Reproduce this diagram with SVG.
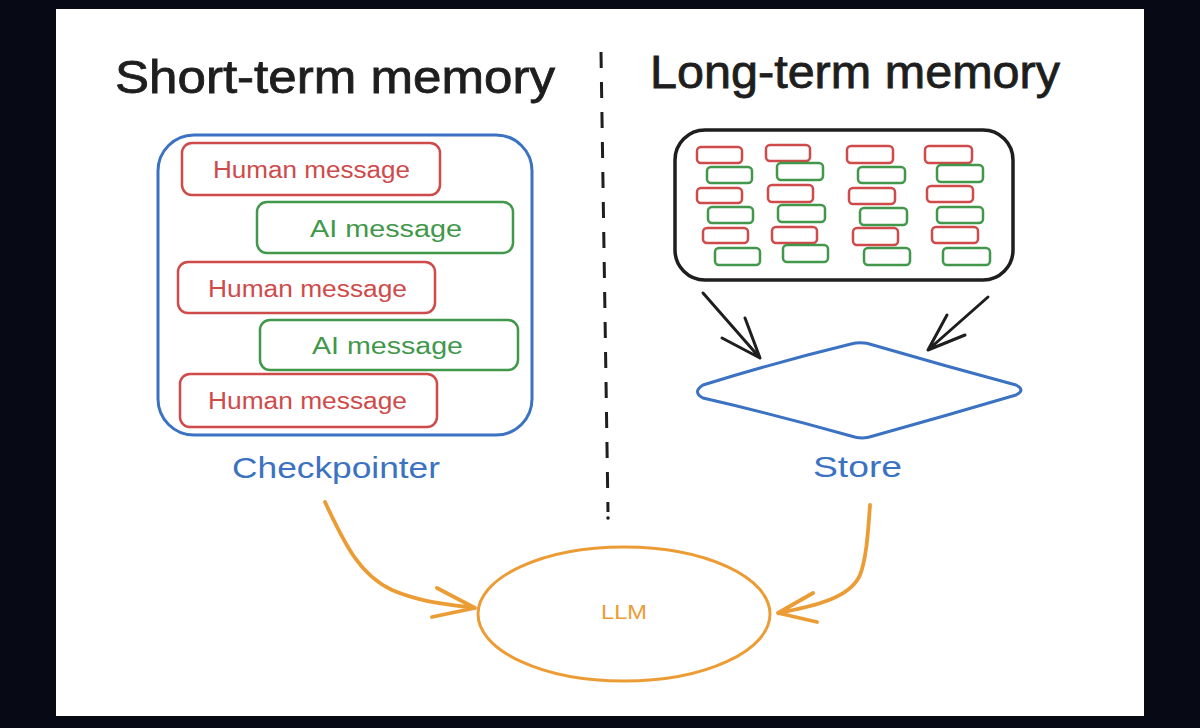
<svg xmlns="http://www.w3.org/2000/svg" width="1200" height="728" viewBox="0 0 1200 728">
<defs>
<style>
.t{font-family:"Liberation Sans",Arial,sans-serif;}
.title{font-size:46px;fill:#1e1e1e;stroke:#1e1e1e;stroke-width:0.8;}
.msg{font-size:23px;}
.red{fill:none;stroke:#cf4a4a;stroke-width:2.5;}
.green{fill:none;stroke:#41984b;stroke-width:2.5;}
.redt{fill:#cf4a4a;}
.greent{fill:#41984b;}
.blue{fill:none;stroke:#3b72c2;stroke-width:3;}
.bluet{fill:#3b72c2;font-size:30px;}
.sr{fill:none;stroke:#cf4a4a;stroke-width:2.5;}
.sg{fill:none;stroke:#41984b;stroke-width:2.5;}
.blk{fill:none;stroke:#1e1e1e;stroke-width:3;stroke-linecap:round;stroke-linejoin:round;}
.org{fill:none;stroke:#ec9c35;stroke-width:3.8;stroke-linecap:round;stroke-linejoin:round;}
</style>
</defs>
<rect x="0" y="0" width="1200" height="728" fill="#070a14"/>
<rect x="56" y="9" width="1088" height="707" fill="#ffffff"/>

<g id="titles">
<text class="t title" x="115" y="93" textLength="440" lengthAdjust="spacingAndGlyphs">Short-term memory</text>
<text class="t title" x="650" y="88" textLength="410" lengthAdjust="spacingAndGlyphs">Long-term memory</text>
</g>

<g id="divider">
<path d="M601 52 L608 512" fill="none" stroke="#1e1e1e" stroke-width="3" stroke-dasharray="16 14"/>
<circle cx="608" cy="518" r="1.8" fill="#1e1e1e"/>
</g>

<g id="checkpointer">
<rect class="blue" x="158" y="135" width="374" height="300" rx="36"/>
<text class="t bluet" x="232" y="478" textLength="208" lengthAdjust="spacingAndGlyphs">Checkpointer</text>
</g>

<g id="msg1">
<rect class="red" x="182" y="143" width="258" height="52" rx="10"/>
<text class="t msg redt" x="213" y="178" textLength="197" lengthAdjust="spacingAndGlyphs">Human message</text>
</g>
<g id="msg2">
<rect class="green" x="257" y="202" width="256" height="51" rx="10"/>
<text class="t msg greent" x="310" y="237" textLength="152" lengthAdjust="spacingAndGlyphs">AI message</text>
</g>
<g id="msg3">
<rect class="red" x="178" y="262" width="257" height="51" rx="10"/>
<text class="t msg redt" x="208" y="297" textLength="199" lengthAdjust="spacingAndGlyphs">Human message</text>
</g>
<g id="msg4">
<rect class="green" x="260" y="320" width="258" height="50" rx="10"/>
<text class="t msg greent" x="312" y="354" textLength="151" lengthAdjust="spacingAndGlyphs">AI message</text>
</g>
<g id="msg5">
<rect class="red" x="180" y="374" width="257" height="53" rx="10"/>
<text class="t msg redt" x="208" y="409" textLength="199" lengthAdjust="spacingAndGlyphs">Human message</text>
</g>

<g id="longterm">
<rect x="675" y="130" width="338" height="150" rx="30" fill="none" stroke="#1e1e1e" stroke-width="3.5"/>
<rect class="sr" x="697" y="147" width="45" height="16" rx="4"/>
<rect class="sg" x="707" y="167" width="45" height="16" rx="4"/>
<rect class="sr" x="697" y="188" width="45" height="15" rx="4"/>
<rect class="sg" x="708" y="207" width="45" height="16" rx="4"/>
<rect class="sr" x="703" y="228" width="45" height="15" rx="4"/>
<rect class="sg" x="715" y="248" width="45" height="17" rx="4"/>
<rect class="sr" x="766" y="145" width="44" height="16" rx="4"/>
<rect class="sg" x="777" y="163" width="46" height="17" rx="4"/>
<rect class="sr" x="768" y="185" width="45" height="17" rx="4"/>
<rect class="sg" x="778" y="205" width="47" height="17" rx="4"/>
<rect class="sr" x="772" y="227" width="45" height="16" rx="4"/>
<rect class="sg" x="783" y="245" width="45" height="17" rx="4"/>
<rect class="sr" x="847" y="146" width="46" height="17" rx="4"/>
<rect class="sg" x="858" y="167" width="47" height="16" rx="4"/>
<rect class="sr" x="849" y="188" width="46" height="16" rx="4"/>
<rect class="sg" x="860" y="208" width="47" height="17" rx="4"/>
<rect class="sr" x="853" y="228" width="45" height="17" rx="4"/>
<rect class="sg" x="864" y="248" width="46" height="17" rx="4"/>
<rect class="sr" x="925" y="146" width="47" height="17" rx="4"/>
<rect class="sg" x="937" y="165" width="46" height="17" rx="4"/>
<rect class="sr" x="927" y="186" width="46" height="16" rx="4"/>
<rect class="sg" x="937" y="207" width="46" height="16" rx="4"/>
<rect class="sr" x="932" y="227" width="46" height="16" rx="4"/>
<rect class="sg" x="943" y="248" width="47" height="17" rx="4"/>
</g>

<g id="store">
<path class="blue" d="M703 385 Q777 362 851 344 Q862 341 873 345 Q945 366 1016 385 Q1026 390 1016 395 Q945 416 873 436 Q862 440 851 436 Q777 415 703 398 Q692 392 703 385 Z"/>
<text class="t bluet" x="813" y="477" textLength="89" lengthAdjust="spacingAndGlyphs">Store</text>
</g>

<g id="llm">
<ellipse cx="624" cy="614" rx="146" ry="67" fill="none" stroke="#ec9c35" stroke-width="3"/>
<text class="t" x="624" y="619" font-size="20" fill="#ec9c35" text-anchor="middle" textLength="46" lengthAdjust="spacingAndGlyphs">LLM</text>
</g>

<g id="connectors">
<path class="blk" d="M703 293 L760 358 M745 318 L760 358 L722 338"/>
<path class="blk" d="M988 297 L928 350 M947 315 L928 350 L965 335"/>
<path class="org" d="M325 502 C345 545 360 575 392 590 C420 602 445 604 475 608 M437 588 L475 608 L432 617"/>
<path class="org" d="M870 505 C868 535 866 560 860 575 C850 598 815 606 778 613 M813 593 L778 613 L817 622"/>
</g>
</svg>
